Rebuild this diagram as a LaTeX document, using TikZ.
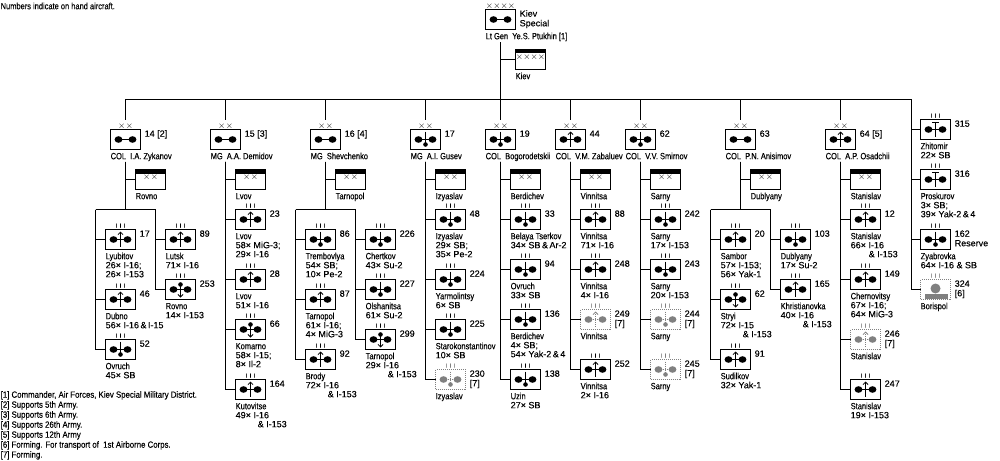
\documentclass[tikz,border=0pt]{standalone}
\usepackage{fontspec}
\usetikzlibrary{arrows.meta}
\setmainfont[FakeBold=0.12]{Liberation Sans}
\newfontfamily\placefont[FakeStretch=0.83,FakeBold=0.12]{Liberation Sans}
\newfontfamily\notefont[FakeStretch=0.87,FakeBold=0.12]{Liberation Sans}

\newcommand\wingpair{%
  \fill (-7,0) ellipse (3.9pt and 3.3pt) (7,0) ellipse (3.9pt and 3.3pt);
  \draw[line width=1.4pt] (-7,0) -- (7,0);}
\newcommand\regbars{\fontsize{5.5}{5.5}\selectfont I\kern2.45pt I\kern2.45pt I}
\newcommand\divx{\fontsize{9.5}{9.5}\selectfont\raisebox{-1.4pt}{$\times$\kern0.6pt$\times$}}
\newcommand\armyx{\fontsize{9.5}{9.5}\selectfont\raisebox{-1.4pt}{$\times$\kern0.1pt$\times$\kern0.1pt$\times$\kern0.1pt$\times$}}

\tikzset{
  unitbox/.style={draw=black,line width=1pt,minimum width=30pt,minimum height=20pt,inner sep=0pt,outer sep=0pt},
  ghost/.style={color=black!50,dash pattern=on 1pt off 1pt},
  link/.style={line width=1pt},
  marklab/.style={inner sep=0pt,anchor=base},
  numlab/.style={inner sep=0pt,anchor=north west,align=left,xshift=4pt,font=\fontsize{9}{9.6}\selectfont},
  placelab/.style={inner sep=0pt,anchor=north west,align=left,yshift=-3pt,font=\fontsize{9}{9}\selectfont},
  pics/plain/.style={code={\wingpair}},
  pics/bomber/.style={code={\wingpair
    \draw[line width=0.8pt] (0,-8) -- (0,5); \fill (0,5) circle (2.3pt);}},
  pics/fighter/.style={code={\wingpair
    \draw[line width=0.8pt,-{Straight Barb[length=2.5pt,width=5pt]}] (0,7) -- (0,-8);}},
  pics/strike/.style={code={\wingpair
    \fill (0,-5) circle (2.3pt);
    \draw[line width=0.8pt,-{Straight Barb[length=2.5pt,width=5pt]}] (0,-5) -- (0,8);}},
  pics/recon/.style={code={\wingpair
    \draw[line width=0.8pt] (-3.5,-7) -- (3.5,-7) (0,-7) -- (0,7);}},
  pics/transport/.style={code={
    \fill (0,-1) ellipse (5pt and 5pt);
    \fill (-11,4) rectangle (12,9);}},
}

% box, mark over it, number beside it, place and aircraft under it
\newcommand\acunit[8][]{%
  \node[unitbox,#1] (#2) at (#3+15,#4+10) {};
  \pic[#1] at (#2.center) {#5};
  \node[marklab,#1] (#2m) at ([yshift=2pt]#2.north) {\ifnum#4=129 \divx\else\regbars\fi};
  \node[numlab] (#2n) at (#2.north east) {\rule{0pt}{7pt}#6};
  \node[placelab] (#2l) at (#2.south west) {\rule{0pt}{6.5pt}{\placefont #7}\\#8};
}
\newcommand\achq[5]{%
  \node[unitbox] (#1) at (#2+15,#3+10) {};
  \fill (#1.north west) rectangle ([yshift=-4pt]#1.north east);
  \node[marklab] (#1m) at ([yshift=1pt]#1.center) {#4};
  \node[placelab] (#1l) at (#1.south west) {\rule{0pt}{6.5pt}\placefont #5};
}

\begin{document}
\begin{tikzpicture}[x=1pt,y=-1pt]
  \useasboundingbox (-0.5,-0.5) rectangle (999.5,459.5);
  \node[placelab,yshift=3pt] (topnote) at (0,2) {\rule{0pt}{6.5pt}\placefont Numbers indicate on hand aircraft.};

  % district
  \node[unitbox] (kiev) at (500,19) {};
  \pic at (kiev.center) {plain};
  \node[marklab] (kievm) at ([yshift=2pt]kiev.north) {\armyx};
  \node[numlab] (kievn) at (kiev.north east) {\rule{0pt}{7pt}Kiev\\Special};
  \node[placelab] (kievl) at (kiev.south west) {\rule{0pt}{6.5pt}\placefont Lt Gen\ \ Ye.S. Ptukhin [1]};
  \achq{hqkiev}{515}{49}{\armyx}{Kiev}

  % divisions
  \acunit{d14}{110}{129}{plain}{14 [2]}{COL\ \ I.A. Zykanov}{}
  \acunit{d15}{210}{129}{plain}{15 [3]}{MG\ \ A.A. Demidov}{}
  \acunit{d16}{310}{129}{plain}{16 [4]}{MG\ \ Shevchenko}{}
  \acunit{d17}{410}{129}{bomber}{17}{MG\ \ A.I. Gusev}{}
  \acunit{d19}{485}{129}{bomber}{19}{COL\ \ Bogorodetskii}{}
  \acunit{d44}{555}{129}{fighter}{44}{COL\ \ V.M. Zabaluev}{}
  \acunit{d62}{625}{129}{bomber}{62}{COL\ \ V.V. Smirnov}{}
  \acunit{d63}{725}{129}{plain}{63}{COL\ \ P.N. Anisimov}{}
  \acunit{d64}{825}{129}{fighter}{64 [5]}{COL\ \ A.P. Osadchii}{}

  \achq{hq14}{135}{169}{\divx}{Rovno}
  \achq{hq15}{235}{169}{\divx}{Lvov}
  \achq{hq16}{335}{169}{\divx}{Tarnopol}
  \achq{hq17}{435}{169}{\divx}{Izyaslav}
  \achq{hq19}{510}{169}{\divx}{Berdichev}
  \achq{hq44}{580}{169}{\divx}{Vinnitsa}
  \achq{hq62}{650}{169}{\divx}{Sarny}
  \achq{hq63}{750}{169}{\divx}{Dublyany}
  \achq{hq64}{850}{169}{\divx}{Stanislav}

  % regiments
  \acunit{r17}{105}{229}{fighter}{17}{Lyubitov}{26× I-16;\\26× I-153}
  \acunit{r46}{105}{289}{fighter}{46}{Dubno}{56× I-16\,\&\,I-15}
  \acunit{r52}{105}{339}{bomber}{52}{Ovruch}{45× SB}
  \acunit{r89}{165}{229}{fighter}{89}{Lutsk}{71× I-16}
  \acunit{r253}{165}{279}{strike}{253}{Rovno}{14× I-153}

  \acunit{r23}{235}{209}{fighter}{23}{Lvov}{58× MiG-3;\\29× I-16}
  \acunit{r28}{235}{269}{fighter}{28}{Lvov}{51× I-16}
  \acunit{r66}{235}{319}{strike}{66}{Komarno}{58× I-15;\\8× Il-2}
  \acunit{r164}{235}{379}{fighter}{164}{Kutovitse}{49× I-16\\\hspace*{22pt}\& I-153}

  \acunit{r86}{305}{229}{bomber}{86}{Trembovlya}{54× SB;\\10× Pe-2}
  \acunit{r87}{305}{289}{fighter}{87}{Tarnopol}{61× I-16;\\4× MiG-3}
  \acunit{r92}{305}{349}{fighter}{92}{Brody}{72× I-16\\\hspace*{22pt}\& I-153}
  \acunit{r226}{365}{229}{bomber}{226}{Chertkov}{43× Su-2}
  \acunit{r227}{365}{279}{bomber}{227}{Olshanitsa}{61× Su-2}
  \acunit{r299}{365}{329}{strike}{299}{Tarnopol}{29× I-16\\\hspace*{22pt}\& I-153}

  \acunit{r48}{435}{209}{bomber}{48}{Izyaslav}{29× SB;\\35× Pe-2}
  \acunit{r224}{435}{269}{bomber}{224}{Yarmolintsy}{6× SB}
  \acunit{r225}{435}{319}{bomber}{225}{Starokonstantinov}{10× SB}
  \acunit[ghost]{r230}{435}{369}{bomber}{230\\{}[7]}{Izyaslav}{}

  \acunit{r33}{510}{209}{bomber}{33}{Belaya Tserkov}{34× SB\,\&\,Ar-2}
  \acunit{r94}{510}{259}{bomber}{94}{Ovruch}{33× SB}
  \acunit{r136}{510}{309}{bomber}{136}{Berdichev}{4× SB;\\54× Yak-2\,\&\,4}
  \acunit{r138}{510}{369}{bomber}{138}{Uzin}{27× SB}

  \acunit{r88}{580}{209}{fighter}{88}{Vinnitsa}{71× I-16}
  \acunit{r248}{580}{259}{fighter}{248}{Vinnitsa}{4× I-16}
  \acunit[ghost]{r249}{580}{309}{fighter}{249\\{}[7]}{Vinnitsa}{}
  \acunit{r252}{580}{359}{fighter}{252}{Vinnitsa}{2× I-16}

  \acunit{r242}{650}{209}{bomber}{242}{Sarny}{17× I-153}
  \acunit{r243}{650}{259}{bomber}{243}{Sarny}{20× I-153}
  \acunit[ghost]{r244}{650}{309}{bomber}{244\\{}[7]}{Sarny}{}
  \acunit[ghost]{r245}{650}{359}{bomber}{245\\{}[7]}{Sarny}{}

  \acunit{r20}{720}{229}{fighter}{20}{Sambor}{57× I-153;\\56× Yak-1}
  \acunit{r62}{720}{289}{strike}{62}{Stryi}{72× I-15\\\hspace*{22pt}\& I-153}
  \acunit{r91}{720}{349}{fighter}{91}{Sudilkov}{32× Yak-1}
  \acunit{r103}{780}{229}{bomber}{103}{Dublyany}{17× Su-2}
  \acunit{r165}{780}{279}{fighter}{165}{Khristianovka}{40× I-16\\\hspace*{22pt}\& I-153}

  \acunit{r12}{850}{209}{fighter}{12}{Stanislav}{66× I-16\\\hspace*{18pt}\& I-153}
  \acunit{r149}{850}{269}{fighter}{149}{Chernovitsy}{67× I-16;\\64× MiG-3}
  \acunit[ghost]{r246}{850}{329}{fighter}{246\\{}[7]}{Stanislav}{}
  \acunit{r247}{850}{379}{fighter}{247}{Stanislav}{19× I-153}

  \acunit{r315}{920}{119}{recon}{315}{Zhitomir}{22× SB}
  \acunit{r316}{920}{169}{recon}{316}{Proskurov}{3× SB;\\39× Yak-2\,\&\,4}
  \acunit{r162}{920}{229}{bomber}{162\\Reserve}{Zyabrovka}{64× I-16 \& SB}
  \acunit[ghost]{r324}{920}{279}{transport}{324\\{}[6]}{Borispol}{}

  % connectors
  \coordinate (top) at (500,42);
  \coordinate (bus) at (500,99);
  \coordinate (tr9) at (911,99);
  \draw[link] (top) -- (bus);
  \draw[link] (top) |- (hqkiev.west);
  \draw[link] (bus) -- (tr9);
  \foreach \u in {d14,d15,d16,d17,d19,d44,d62,d63,d64}
    \draw[link,shorten >=10pt] (bus) -| (\u.north);
  \foreach \u in {r315,r316,r162,r324}
    \draw[link] (tr9) |- (\u.west);

  \foreach \d/\x in {14/125,15/225,16/325,17/425,19/500,44/570,62/640,63/740,64/840}{
    \coordinate (tr\d) at (\x,161);
    \draw[link] (tr\d) |- (hq\d.west);
  }
  \foreach \u in {r23,r28,r66,r164} \draw[link] (tr15) |- (\u.west);
  \foreach \u in {r48,r224,r225,r230} \draw[link] (tr17) |- (\u.west);
  \foreach \u in {r33,r94,r136,r138} \draw[link] (tr19) |- (\u.west);
  \foreach \u in {r88,r248,r249,r252} \draw[link] (tr44) |- (\u.west);
  \foreach \u in {r242,r243,r244,r245} \draw[link] (tr62) |- (\u.west);
  \foreach \u in {r12,r149,r246,r247} \draw[link] (tr64) |- (\u.west);

  % two columns of regiments
  \foreach \d/\a/\b in {14/95/155,16/295/355,63/710/770}{
    \coordinate (lf\d) at (\a,209);
    \coordinate (rt\d) at (\b,209);
    \draw[link] (lf\d) -- (rt\d);
    \draw[link] (tr\d) -- (tr\d |- lf\d);
  }
  \foreach \u in {r17,r46,r52} \draw[link] (lf14) |- (\u.west);
  \foreach \u in {r89,r253} \draw[link] (rt14) |- (\u.west);
  \foreach \u in {r86,r87,r92} \draw[link] (lf16) |- (\u.west);
  \foreach \u in {r226,r227,r299} \draw[link] (rt16) |- (\u.west);
  \foreach \u in {r20,r62,r91} \draw[link] (lf63) |- (\u.west);
  \foreach \u in {r103,r165} \draw[link] (rt63) |- (\u.west);

  % footnotes
  \node[inner sep=0pt,anchor=north west,align=left,font=\fontsize{9}{10}\selectfont\notefont] (notes) at (0,390) {
    \rule{0pt}{7pt}[1] Commander, Air Forces, Kiev Special Military District.\\
    {}[2] Supports 5th Army.\\
    {}[3] Supports 6th Army.\\
    {}[4] Supports 26th Army.\\
    {}[5] Supports 12th Army\\
    {}[6] Forming. For transport of\ \ 1st Airborne Corps.\\
    {}[7] Forming.};
\end{tikzpicture}
\end{document}
